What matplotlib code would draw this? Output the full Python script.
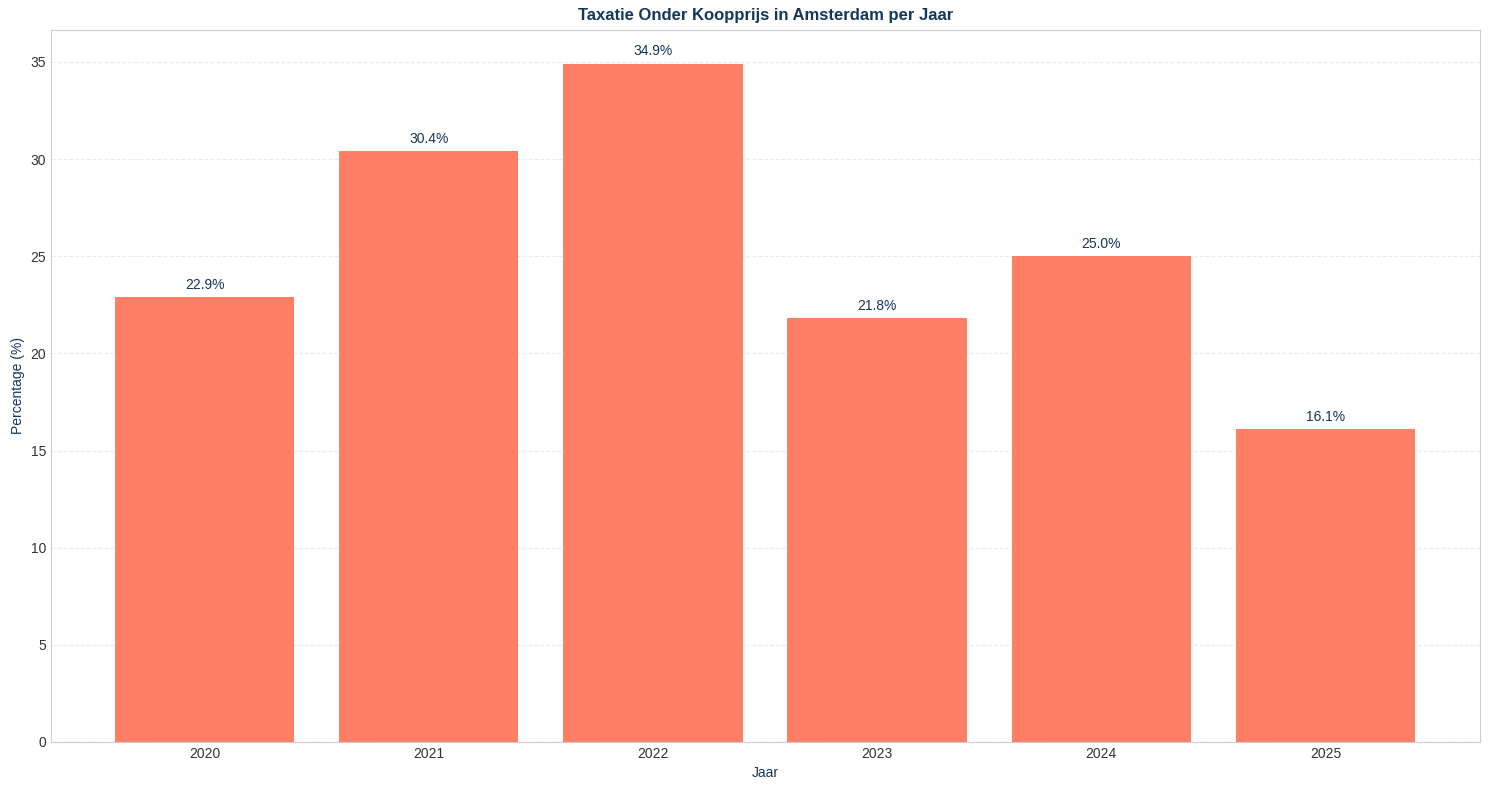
import matplotlib
matplotlib.use('Agg')
import matplotlib.pyplot as plt
import seaborn as sns

jaren = ['2020', '2021', '2022', '2023', '2024', '2025']
percentages = [22.9, 30.4, 34.9, 21.8, 25.0, 16.1]

sns.set_style('whitegrid')
plt.rcParams['font.family'] = ['Liberation Sans', 'DejaVu Sans']

navy = '#14375a'

fig, ax = plt.subplots(figsize=(14.89, 7.9), dpi=100)
bars = ax.bar(jaren, percentages, color='#FF7F66', width=0.8, linewidth=0)

for b, v in zip(bars, percentages):
    ax.annotate(f'{v:.1f}%', (b.get_x() + b.get_width() / 2, v),
                xytext=(0, 4), textcoords='offset points',
                ha='center', va='bottom', fontsize=10, color=navy)

ax.set_title('Taxatie Onder Koopprijs in Amsterdam per Jaar',
             fontsize=12, fontweight='bold', color=navy, pad=7)
ax.set_xlabel('Jaar', fontsize=10, color=navy)
ax.set_ylabel('Percentage (%)', fontsize=10, color=navy)
ax.tick_params(labelsize=10, colors='#333333', length=0, pad=3.5)
ax.grid(axis='x', visible=False)
ax.grid(axis='y', linestyle='--', alpha=0.4)
ax.set_axisbelow(True)
ax.set_xlim(-0.685, 5.69)
for s in ax.spines.values():
    s.set_color('#cccccc')

fig.subplots_adjust(left=0.0343, right=0.994, top=0.962, bottom=0.0608)
plt.savefig('out.png', dpi=100)
